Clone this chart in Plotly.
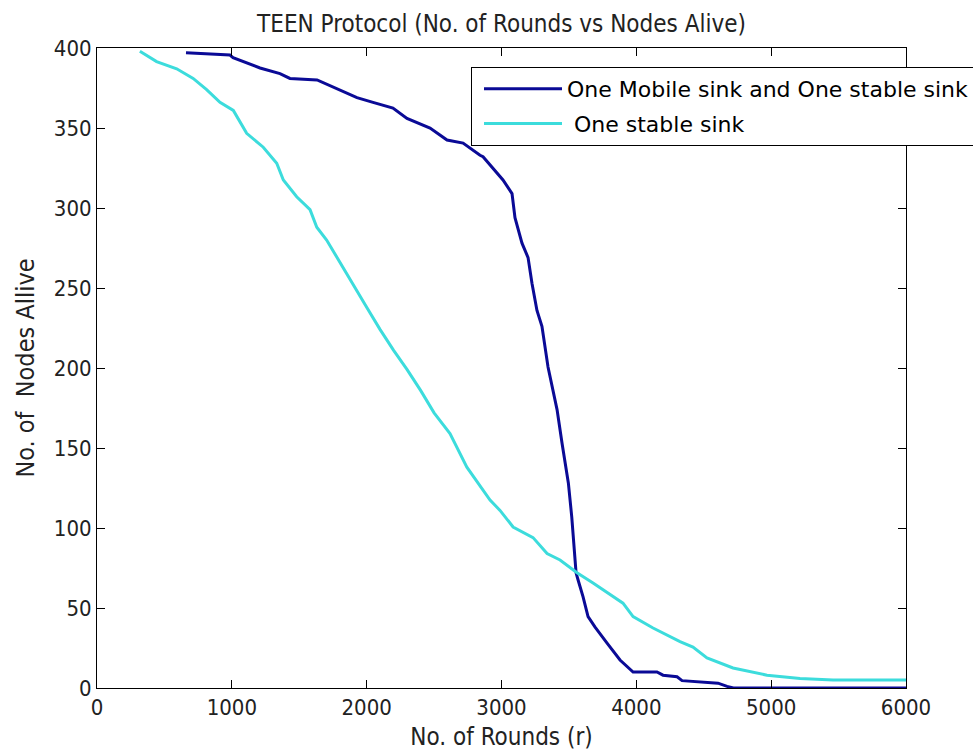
import plotly.graph_objects as go

# Rounds vs. number of alive nodes, TEEN protocol
mobile_rounds = [660, 986, 1009, 1209, 1357, 1431, 1632, 1928, 2047, 2195, 2299, 2470,
                 2596, 2715, 2841, 2863, 3011, 3078, 3100, 3152, 3197, 3226, 3263, 3300,
                 3345, 3412, 3449, 3496, 3521, 3538, 3553, 3568, 3605, 3642, 3694, 3783,
                 3879, 3976, 4153, 4198, 4302, 4339, 4473, 4606, 4673, 4720, 6000]
mobile_alive = [397, 395.6, 394, 387.5, 384, 381, 380, 369, 366, 362.5, 356, 350,
                342.5, 340.6, 333, 332, 317.5, 309, 294, 278, 269, 253, 236, 226,
                200.6, 174, 153, 128, 107, 86, 72, 67.5, 57, 44.6, 38, 28,
                17.5, 10, 10, 8, 7, 4.6, 4, 3, 1, 0, 0]

stable_rounds = [318, 442, 591, 713, 813, 912, 1011, 1063, 1110, 1233, 1333, 1382,
                 1481, 1580, 1630, 1703, 1800, 1900, 2000, 2100, 2200, 2300, 2400, 2500,
                 2618, 2743, 2915, 2989, 3086, 3234, 3338, 3434, 3560, 3679, 3827, 3901,
                 3976, 4124, 4324, 4420, 4524, 4717, 4969, 5214, 5459, 6000]
stable_alive = [398, 391.5, 387, 381, 374, 366, 361, 353, 346.7, 338, 328, 317.5,
                307, 299, 288, 280, 266, 252, 238, 224, 211, 199, 186, 172,
                159, 138, 117.5, 111, 100.6, 94, 84, 80, 72, 65.6, 57, 53,
                44.6, 37.5, 29, 25.6, 18.8, 12.5, 8, 6, 5, 5]

x_ticks = [0, 1000, 2000, 3000, 4000, 5000, 6000]
y_ticks = [0, 50, 100, 150, 200, 250, 300, 350, 400]

narrow = "Liberation Sans Narrow, DejaVu Sans Condensed, Arial Narrow, sans-serif"
text_color = "#222222"

fig = go.Figure()
fig.add_trace(go.Scatter(
    x=mobile_rounds, y=mobile_alive, mode="lines",
    name="One Mobile sink and One stable sink",
    line=dict(color="#0a0a96", width=3),
    legendgroup="a",
))
fig.add_trace(go.Scatter(
    x=stable_rounds, y=stable_alive, mode="lines",
    name="\u00a0One stable sink",
    line=dict(color="#3cdcdc", width=3),
    legendgroup="b",
))

axis_common = dict(
    showline=True, linecolor="black", linewidth=1, mirror="ticks",
    ticks="inside", ticklen=8, tickcolor="black", showgrid=False, zeroline=False,
    tickfont=dict(family=narrow, size=22, color=text_color),
    automargin=False,
)

fig.update_layout(
    width=973, height=755,
    margin=dict(l=97, r=67, t=48, b=67, autoexpand=False),
    paper_bgcolor="white", plot_bgcolor="white",
    title=dict(
        text="TEEN Protocol (No. of Rounds vs Nodes Alive)",
        font=dict(family=narrow, size=24, color=text_color),
        x=0.5, xanchor="center", xref="paper",
        y=1 - 24 / 755, yanchor="middle", yref="container",
    ),
    xaxis=dict(
        range=[0, 6000], tickvals=x_ticks,
        title=dict(text="No. of Rounds (r)", font=dict(family=narrow, size=24, color=text_color),
                   standoff=8),
        **axis_common,
    ),
    yaxis=dict(
        range=[0, 400], tickvals=y_ticks,
        title=dict(text="No. of\u00a0\u00a0Nodes Allive", font=dict(family=narrow, size=25, color=text_color),
                   standoff=12),
        **axis_common,
    ),
    legend=dict(
        x=(471 - 97) / 809, xanchor="left",
        y=(688 - 67) / 640, yanchor="top",
        bgcolor="white", bordercolor="black", borderwidth=1,
        font=dict(family="DejaVu Sans", size=22, color="black"),
        itemwidth=78, tracegroupgap=3, indentation=7,
    ),
    showlegend=True,
)

fig.write_html("out.html")
